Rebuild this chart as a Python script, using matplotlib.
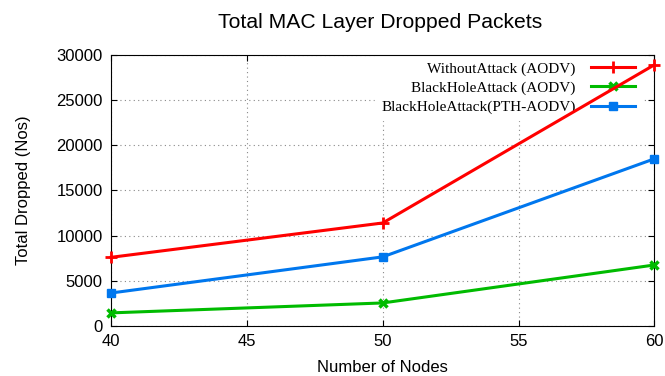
import matplotlib.pyplot as plt

nodes = [40, 50, 60]
without_attack = [7600, 11400, 28900]
blackhole_aodv = [1450, 2550, 6750]
blackhole_pth = [3650, 7650, 18500]

x_ticks = [40, 45, 50, 55, 60]
y_ticks = [0, 5000, 10000, 15000, 20000, 25000, 30000]

fig = plt.figure(figsize=(6.65, 3.76), dpi=100)
ax = fig.add_axes([0.167, 0.133, 0.817, 0.721])
ax.set_axisbelow(True)

ax.plot(nodes, without_attack, color="#ff0000", lw=2.2, marker="+", ms=9, mew=2,
        label="WithoutAttack (AODV)", clip_on=False, zorder=3)
ax.plot(nodes, blackhole_aodv, color="#00bb00", lw=2.2, marker="x", ms=6, mew=2.5,
        label="BlackHoleAttack (AODV)", clip_on=False, zorder=3)
ax.plot(nodes, blackhole_pth, color="#0077ee", lw=2.2, marker="s", ms=6,
        label="BlackHoleAttack(PTH-AODV)", clip_on=False, zorder=3)

ax.set_xlim(40, 60)
ax.set_ylim(0, 30000)
ax.set_xticks(x_ticks)
ax.set_yticks(y_ticks)
ax.tick_params(direction="in", labelsize=12, length=4, pad=6, top=True, right=True)
for lab in ax.get_xticklabels() + ax.get_yticklabels():
    lab.set_family("Liberation Sans")
ax.grid(True, ls=(0, (1, 3)), color="#888888", lw=0.8)

ax.set_xlabel("Number of Nodes", fontsize=12, family="Liberation Sans", labelpad=8)
ax.set_ylabel("Total Dropped (Nos)", fontsize=12, family="Liberation Sans", labelpad=18)
fig.text(0.572, 0.94, "Total MAC Layer Dropped Packets", fontsize=15.2,
         family="Liberation Sans", ha="center", va="center")

leg = ax.legend(loc="upper right", bbox_to_anchor=(0.976, 0.997), markerfirst=False,
                frameon=True, fancybox=False,
                prop={"family": "Liberation Serif", "size": 11}, handlelength=2.9,
                labelspacing=0.35, borderaxespad=0, handletextpad=1.0)
leg.get_frame().set_edgecolor("white")
leg.get_frame().set_alpha(1)
leg.set_zorder(1)

fig.savefig("out.png", dpi=100)
